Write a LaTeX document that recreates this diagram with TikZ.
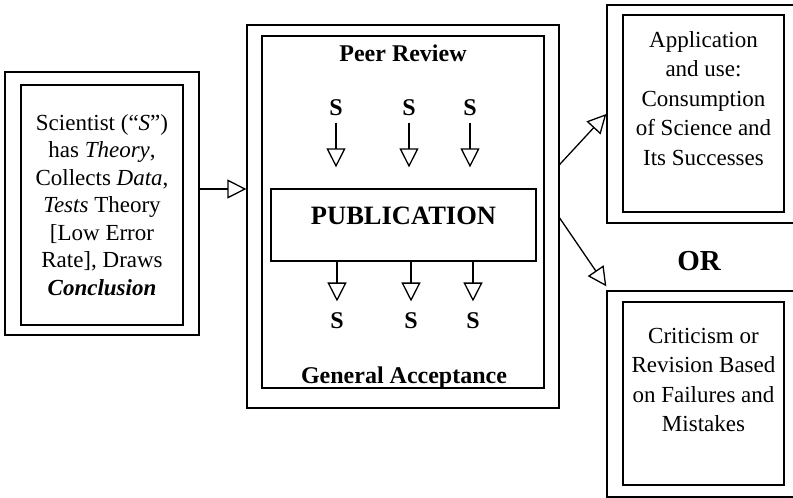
\documentclass[tikz,border=0pt]{standalone}
\usepackage{fontspec}
\setmainfont{Liberation Serif}
\usetikzlibrary{arrows.meta}

\begin{document}
\begin{tikzpicture}[
        x=1pt, y=-1pt,
        line width=1.3pt,
        flow/.style={-{Triangle[open, length=19pt, width=19pt]}},
        frame/.style={draw, rectangle, inner sep=0pt},
        box/.style={draw, rectangle, inner sep=0pt, align=center, font=\fontsize{23}{27.5}\selectfont},
        boxtext/.style={align=center, inner sep=0pt, font=\fontsize{23}{29.5}\selectfont},
        heading/.style={font=\bfseries\fontsize{24}{28}\selectfont, inner sep=0pt, anchor=base},
    ]
        \path[use as bounding box, clip] (0,0) rectangle (793,498);

        % Draw the scientist box
        \node[frame, minimum width=194pt, minimum height=263pt] (sci-frame) at (102,203.5) {};
        \node[box, minimum width=162pt, minimum height=240pt] (sci) at (102,205)
            {Scientist (“\textit{S}”)\\ has \textit{Theory},\\ Collects \textit{Data},\\ \textit{Tests} Theory\\{[}Low Error\\ Rate], Draws\\ \textbf{\textit{Conclusion}}};

        % Draw the peer review box
        \node[frame, minimum width=312pt, minimum height=383pt] (peer-frame) at (403,216.5) {};
        \node[frame, minimum width=282pt, minimum height=352pt] (peer) at (403,212) {};
        \node[heading] (peer-title) at (403,61.5) {Peer Review};
        \node[heading] (ga-title) at (404,383) {General Acceptance};
        \node[frame, minimum width=265pt, minimum height=72pt] (pub) at (403.5,225) {};
        \node[heading, font=\bfseries\fontsize{26.5}{30}\selectfont] (pub-title) at (403.5,224) {PUBLICATION};

        % Draw the scientists before and after publication
        \foreach \i / \x in {1/336, 2/409, 3/470}
            \node[heading] (pr-\i) at (\x,115) {S};
        \foreach \i / \x in {1/337, 2/411, 3/473}
            \node[heading] (ga-\i) at (\x,328) {S};

        \foreach \i in {1,2,3}
            \draw[flow, shorten <=7pt, shorten >=21pt] (pr-\i.south) -- (pr-\i.south |- pub.north);
        \foreach \i in {1,2,3}
            \draw[flow, shorten >=10pt] (ga-\i.north |- pub.south) -- (ga-\i.north);

        % Draw the two outcomes
        \node[frame, minimum width=203pt, minimum height=218pt] (app-frame) at (708.5,114) {};
        \node[frame, minimum width=161pt, minimum height=197pt] (app) at (703.5,113.5) {};
        \node[boxtext] (app-text) at (703.5,98.5)
            {Application\\ and use:\\ Consumption\\ of Science and\\ Its Successes};
        \node[heading, font=\bfseries\fontsize{29}{32}\selectfont] (or) at (699,270.5) {OR};
        \node[frame, minimum width=203pt, minimum height=206pt] (crit-frame) at (708.5,394) {};
        \node[frame, minimum width=161pt, minimum height=183pt] (crit) at (703.5,393.5) {};
        \node[boxtext] (crit-text) at (703.5,380)
            {Criticism or\\ Revision Based\\ on Failures and\\ Mistakes};

        % Connect the boxes
        \coordinate (sci-out) at ([yshift=14.5pt]sci-frame.east);
        \draw[flow] (sci-out) -- (sci-out -| peer-frame.west);
        \draw[flow] ([yshift=52pt]peer-frame.east) -- (app-frame.west);
        \draw[flow] ([yshift=-1.5pt]peer-frame.east) -- ([yshift=4pt]crit-frame.north west);
    \end{tikzpicture}
\end{document}
